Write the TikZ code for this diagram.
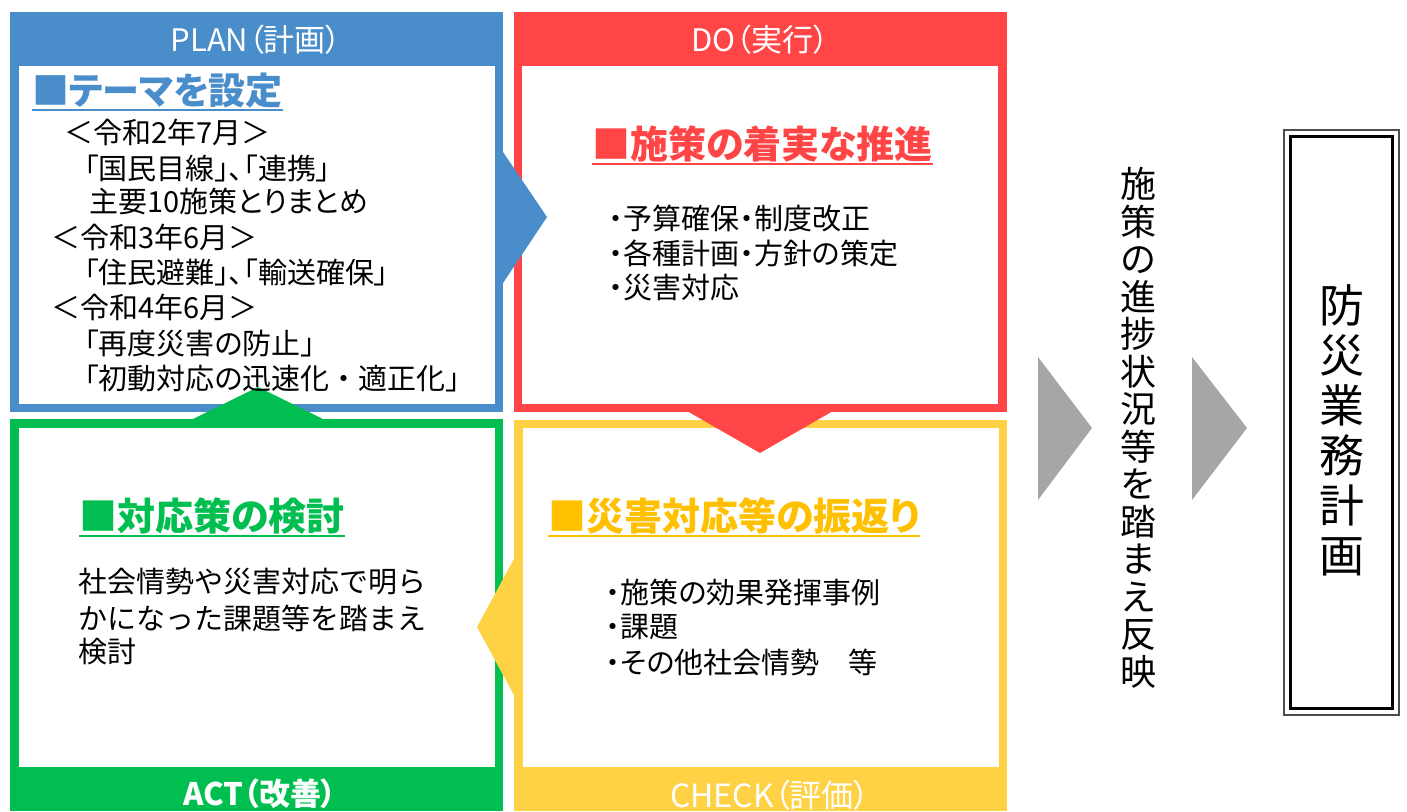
\documentclass[tikz,border=0pt]{standalone}
\usepackage{fontspec}
\setmainfont{Noto Sans CJK JP}[RawFeature=+palt]
\newfontfamily\fw{Noto Sans CJK JP}
\usetikzlibrary{calc}
\definecolor{cblue}{HTML}{4A8DCB}
\definecolor{cred}{HTML}{FF4545}
\definecolor{cgreen}{HTML}{00BF50}
\definecolor{cyellow}{HTML}{FFD246}
\definecolor{cgold}{HTML}{FFC000}
\definecolor{cgray}{HTML}{A6A6A6}
\newcommand{\nolsl}{\lineskiplimit=-50pt\relax}
\begin{document}
\begin{tikzpicture}[x=1pt,y=-1pt,
  hdr/.style={text=white,font=\fontsize{31}{31}\selectfont,inner sep=0},
  ttl/.style={font=\bfseries\fontsize{38}{38}\selectfont,anchor=west,inner sep=0},
  bd/.style={font=\fontsize{29}{29}\selectfont,anchor=west,inner sep=0},
  ul/.style={line width=2pt},
  vt/.style={align=center,inner sep=0}]
\useasboundingbox (0,0) rectangle (1407,811);
% boxes
\fill[cblue] (10,12) rectangle (503,412);
\fill[white] (19,66) rectangle (495,404);
\fill[cred] (514,12) rectangle (1007,412);
\fill[white] (522,66) rectangle (998,404);
\fill[cgreen] (10,419) rectangle (503,811);
\fill[white] (19,428) rectangle (495,767);
\fill[cyellow] (514,420) rectangle (1007,811);
\fill[white] (523,428) rectangle (999,767);
% chevrons
\fill[cblue] (503,152) -- (547,217) -- (503,283) -- cycle;
\fill[cred] (687,411) -- (833,411) -- (760,453) -- cycle;
\fill[cgreen] (191,420) -- (325,420) -- (258,387) -- cycle;
\fill[cyellow] (515,557) -- (477,627) -- (515,697) -- cycle;
\fill[cgray] (1038,357) -- (1092,428) -- (1038,500) -- cycle;
\fill[cgray] (1192,357) -- (1247,428) -- (1192,500) -- cycle;
% headers
\node[hdr] (hplan) at (256,40) {PLAN（計画）};
\node[hdr] (hdo) at (760,40) {DO（実行）};
\node[hdr,font=\bfseries\fontsize{31}{31}\selectfont] (hact) at (260,794) {ACT（改善）};
\node[hdr,font=\fontsize{32}{32}\selectfont] (hcheck) at (770,795) {CHECK（評価）};
% titles
\node[ttl,text=cblue,font=\bfseries\fontsize{37}{37}\selectfont] (tplan) at (32,91) {■テーマを設定};
\draw[ul,cblue] ([yshift=-5pt]tplan.base west) -- ([yshift=-5pt]tplan.base east);
\node[ttl,text=cred] (tdo) at (592,144) {■施策の着実な推進};
\draw[ul,cred] ([yshift=-5pt]tdo.base west) -- ([yshift=-5pt]tdo.base east);
\node[ttl,text=cgreen] (tact) at (79,516) {■対応策の検討};
\draw[ul,cgreen] ([yshift=-5pt]tact.base west) -- ([yshift=-5pt]tact.base east);
\node[ttl,text=cgold] (tcheck) at (548,516) {■災害対応等の振返り};
\draw[ul,cgold] ([yshift=-5pt]tcheck.base west) -- ([yshift=-5pt]tcheck.base east);
% PLAN body
\node[bd] (p1) at (64,132) {＜令和2年7月＞};
\node[bd] (p2) at (84,168) {「国民目線」、「連携」};
\node[bd] (p3) at (89,201) {主要10施策とりまとめ};
\node[bd] (p4) at (51,237) {＜令和3年6月＞};
\node[bd] (p5) at (84,272) {「住民避難」、「輸送確保」};
\node[bd] (p6) at (51,307) {＜令和4年6月＞};
\node[bd] (p7) at (84,343) {「再度災害の防止」};
\node[bd] (p8) at (84,378) {「初動対応の迅速化{\fw ・}適正化」};
% DO body
\node[bd] (d1) at (609,218) {・予算確保・制度改正};
\node[bd] (d2) at (609,253) {・各種計画・方針の策定};
\node[bd] (d3) at (609,288) {・災害対応};
% ACT body
\node[bd,font=\fw\fontsize{29}{29}\selectfont] (a1) at (78,582) {社会情勢や災害対応で明ら};
\node[bd,font=\fw\fontsize{29}{29}\selectfont] (a2) at (78,618) {かになった課題等を踏まえ};
\node[bd,font=\fw\fontsize{29}{29}\selectfont] (a3) at (78,652) {検討};
% CHECK body
\node[bd] (c1) at (606,592) {・施策の効果発揮事例};
\node[bd] (c2) at (606,627) {・課題};
\node[bd] (c3) at (606,662) {・その他社会情勢　等};
% right side
\node[vt,font={\fontsize{36}{37.5}\selectfont\nolsl}] (reflect) at (1138,428)
  {施\\策\\の\\進\\捗\\状\\況\\等\\を\\踏\\ま\\え\\反\\映};
\draw[line width=2pt,black!70] (1284,130) rectangle (1399,715);
\draw[line width=3.5pt] (1290.5,136.5) rectangle (1392.5,708.5);
\node[vt,font={\fontsize{45}{50}\selectfont\nolsl}] (plan) at (1342,430)
  {防\\災\\業\\務\\計\\画};
\end{tikzpicture}
\end{document}
